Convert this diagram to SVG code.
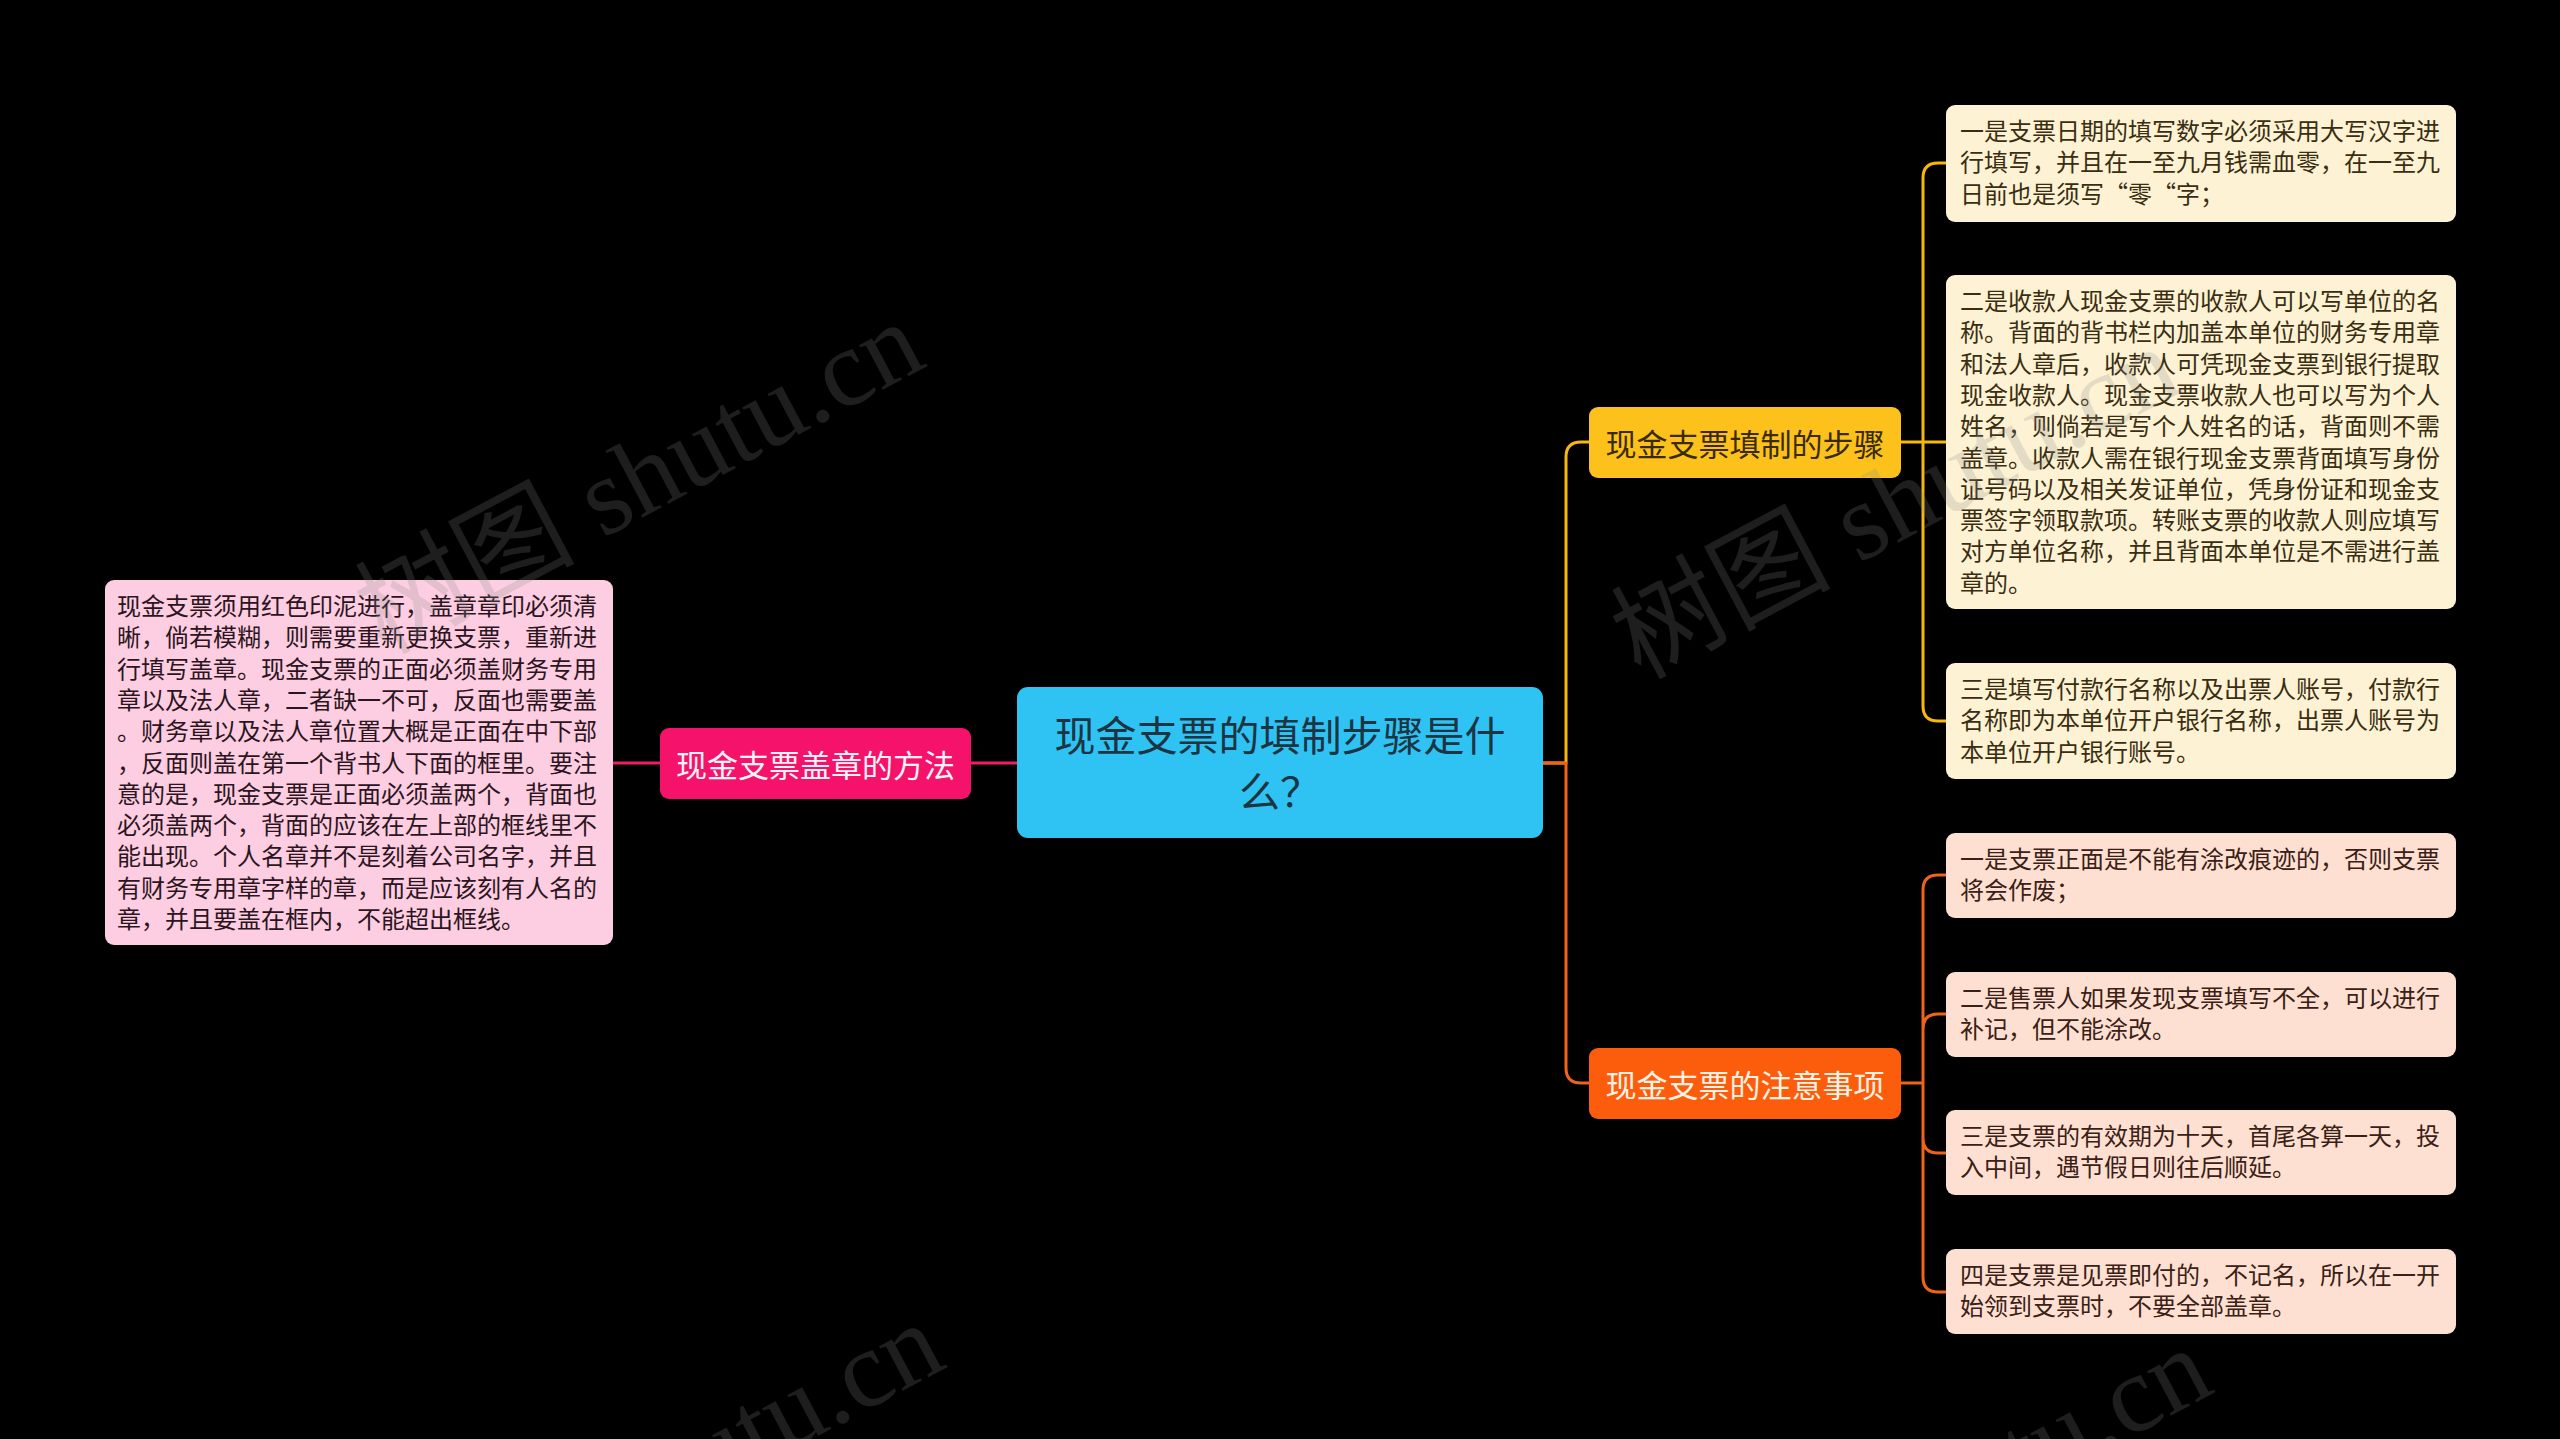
<svg xmlns="http://www.w3.org/2000/svg" width="2560" height="1439" viewBox="0 0 2560 1439">
<style>
text{font-family:"Noto Sans CJK SC","Noto Sans",sans-serif}
.ln{fill:none;stroke-width:3;stroke-linecap:round;stroke-linejoin:round}
.y{stroke:#f6b80f}
.o{stroke:#f0631a}
.p{stroke:#ee1d67}
.sm{font-size:24px}
.mid{font-size:31px;text-anchor:middle;dominant-baseline:central}
.wm{font-family:"Liberation Serif","Noto Sans CJK SC",serif;font-size:110px;fill:#8a8a8a;fill-opacity:0.22}
</style>
<rect width="2560" height="1439" fill="#000"/>
<g id="connectors">
<path class="ln y" d="M1543,763 H1566 V457 Q1566,442 1581,442 H1589"/>
<path class="ln o" d="M1543,763 H1566 V1068 Q1566,1083 1581,1083 H1589"/>
<path class="ln p" d="M1017,763 H971 M660,763 H613"/>
<path class="ln y" d="M1901,442 H1946 M1923,442 V178 Q1923,163 1938,163 H1946 M1923,442 V706 Q1923,721 1938,721 H1946"/>
<path class="ln o" d="M1901,1083 H1923 M1923,1083 V890 Q1923,875 1938,875 H1946 M1923,1083 V1029 Q1923,1014 1938,1014 H1946 M1923,1083 V1138 Q1923,1153 1938,1153 H1946 M1923,1083 V1277 Q1923,1292 1938,1292 H1946"/>
</g>
<g id="root">
<rect x="1017" y="687" width="526" height="151" rx="11" fill="#2fc3f3"/>
<text x="1280" y="751" font-size="41" fill="#1d3442" text-anchor="middle">现金支票的填制步骤是什</text>
<text x="1280" y="807" font-size="41" fill="#1d3442" text-anchor="middle">么？</text>
</g>
<g id="n-stamp">
<rect x="660" y="728" width="311" height="71" rx="9" fill="#f4126a"/>
<text class="mid" x="815.5" y="763.5" fill="#fff3f8">现金支票盖章的方法</text>
</g>
<g id="n-stamp-d">
<rect x="105" y="580" width="508" height="365" rx="9" fill="#fdcde1"/>
<text class="sm" fill="#2a1520" x="117" y="615"><tspan x="117">现金支票须用红色印泥进行，盖章章印必须清</tspan><tspan x="117" dy="31.3">晰，倘若模糊，则需要重新更换支票，重新进</tspan><tspan x="117" dy="31.3">行填写盖章。现金支票的正面必须盖财务专用</tspan><tspan x="117" dy="31.3">章以及法人章，二者缺一不可，反面也需要盖</tspan><tspan x="117" dy="31.3">。财务章以及法人章位置大概是正面在中下部</tspan><tspan x="117" dy="31.3">，反面则盖在第一个背书人下面的框里。要注</tspan><tspan x="117" dy="31.3">意的是，现金支票是正面必须盖两个，背面也</tspan><tspan x="117" dy="31.3">必须盖两个，背面的应该在左上部的框线里不</tspan><tspan x="117" dy="31.3">能出现。个人名章并不是刻着公司名字，并且</tspan><tspan x="117" dy="31.3">有财务专用章字样的章，而是应该刻有人名的</tspan><tspan x="117" dy="31.3">章，并且要盖在框内，不能超出框线。</tspan></text>
</g>
<g id="n-steps">
<rect x="1589" y="407" width="312" height="71" rx="9" fill="#fcc21b"/>
<text class="mid" x="1745" y="442.5" fill="#3a2a05">现金支票填制的步骤</text>
</g>
<g id="n-steps-1">
<rect x="1946" y="105" width="510" height="117" rx="9" fill="#fdf2d4"/>
<text class="sm" fill="#3a2e12" x="1960" y="140"><tspan x="1960">一是支票日期的填写数字必须采用大写汉字进</tspan><tspan x="1960" dy="31.3">行填写，并且在一至九月钱需血零，在一至九</tspan><tspan x="1960" dy="31.3">日前也是须写“零“字；</tspan></text>
</g>
<g id="n-steps-2">
<rect x="1946" y="275" width="510" height="334" rx="9" fill="#fdf2d4"/>
<text class="sm" fill="#3a2e12" x="1960" y="310"><tspan x="1960">二是收款人现金支票的收款人可以写单位的名</tspan><tspan x="1960" dy="31.3">称。背面的背书栏内加盖本单位的财务专用章</tspan><tspan x="1960" dy="31.3">和法人章后，收款人可凭现金支票到银行提取</tspan><tspan x="1960" dy="31.3">现金收款人。现金支票收款人也可以写为个人</tspan><tspan x="1960" dy="31.3">姓名，则倘若是写个人姓名的话，背面则不需</tspan><tspan x="1960" dy="31.3">盖章。收款人需在银行现金支票背面填写身份</tspan><tspan x="1960" dy="31.3">证号码以及相关发证单位，凭身份证和现金支</tspan><tspan x="1960" dy="31.3">票签字领取款项。转账支票的收款人则应填写</tspan><tspan x="1960" dy="31.3">对方单位名称，并且背面本单位是不需进行盖</tspan><tspan x="1960" dy="31.3">章的。</tspan></text>
</g>
<g id="n-steps-3">
<rect x="1946" y="663" width="510" height="116" rx="9" fill="#fdf2d4"/>
<text class="sm" fill="#3a2e12" x="1960" y="698"><tspan x="1960">三是填写付款行名称以及出票人账号，付款行</tspan><tspan x="1960" dy="31.3">名称即为本单位开户银行名称，出票人账号为</tspan><tspan x="1960" dy="31.3">本单位开户银行账号。</tspan></text>
</g>
<g id="n-notes">
<rect x="1589" y="1048" width="312" height="71" rx="9" fill="#fc5d0d"/>
<text class="mid" x="1745" y="1083.5" fill="#fff2e4">现金支票的注意事项</text>
</g>
<g id="n-notes-1">
<rect x="1946" y="833" width="510" height="85" rx="9" fill="#fde0d1"/>
<text class="sm" fill="#3a2015" x="1960" y="868"><tspan x="1960">一是支票正面是不能有涂改痕迹的，否则支票</tspan><tspan x="1960" dy="31.3">将会作废；</tspan></text>
</g>
<g id="n-notes-2">
<rect x="1946" y="972" width="510" height="85" rx="9" fill="#fde0d1"/>
<text class="sm" fill="#3a2015" x="1960" y="1007"><tspan x="1960">二是售票人如果发现支票填写不全，可以进行</tspan><tspan x="1960" dy="31.3">补记，但不能涂改。</tspan></text>
</g>
<g id="n-notes-3">
<rect x="1946" y="1110" width="510" height="85" rx="9" fill="#fde0d1"/>
<text class="sm" fill="#3a2015" x="1960" y="1145"><tspan x="1960">三是支票的有效期为十天，首尾各算一天，投</tspan><tspan x="1960" dy="31.3">入中间，遇节假日则往后顺延。</tspan></text>
</g>
<g id="n-notes-4">
<rect x="1946" y="1249" width="510" height="85" rx="9" fill="#fde0d1"/>
<text class="sm" fill="#3a2015" x="1960" y="1284"><tspan x="1960">四是支票是见票即付的，不记名，所以在一开</tspan><tspan x="1960" dy="31.3">始领到支票时，不要全部盖章。</tspan></text>
</g>
<g id="watermarks">
<text class="wm" transform="translate(384,655) rotate(-28)">树图 shutu.cn</text>
<text class="wm" transform="translate(1640,680) rotate(-28)">树图 shutu.cn</text>
<text class="wm" transform="translate(404,1656) rotate(-28)">树图 shutu.cn</text>
<text class="wm" transform="translate(1672,1681) rotate(-28)">树图 shutu.cn</text>
</g>
</svg>
